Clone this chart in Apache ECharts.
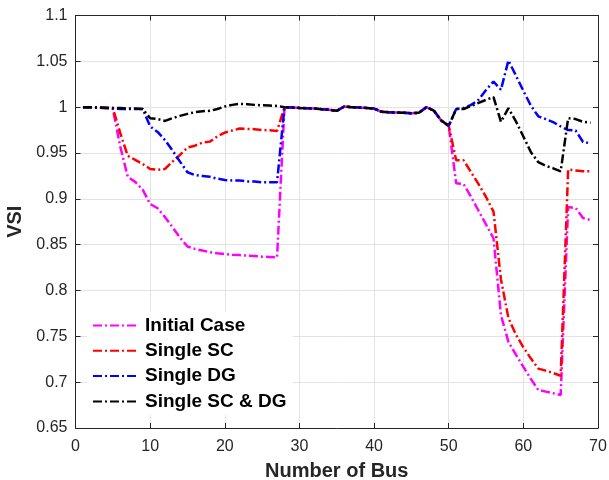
<!DOCTYPE html>
<html>
<head>
<meta charset="utf-8">
<script src="https://cdn.jsdelivr.net/npm/echarts@6/dist/echarts.min.js"></script>
<style>html,body{margin:0;padding:0;background:#fff}#c{width:609px;height:480px}</style>
</head>
<body>
<div id="c"></div>
<script>
const buses = Array.from({length: 69}, (_, i) => i + 1);
const seriesNames = ['Initial Case', 'Single SC', 'Single DG', 'Single SC & DG'];
const xTicks = [0, 10, 20, 30, 40, 50, 60, 70];
const yTicks = [0.65, 0.7, 0.75, 0.8, 0.85, 0.9, 0.95, 1, 1.05, 1.1];

// buses 28-50 (shared by all cases)
const shared28to50 = [1.0, 0.9996, 0.9992, 0.9989, 0.9985, 0.9978, 0.9971, 0.996, 1.0007, 1.0, 0.9996, 0.9992, 0.9985, 0.9949, 0.9945, 0.9941, 0.9938, 0.9934, 0.9938, 1.0, 0.9963, 0.9854, 0.9796];

const initial1to27 = [1.0, 1.0, 0.9999, 0.9998, 0.998, 0.957, 0.924, 0.9185, 0.910, 0.8944, 0.8897, 0.880, 0.869, 0.8577, 0.848, 0.8454, 0.8436, 0.8417, 0.8406, 0.8398, 0.839, 0.8387, 0.838, 0.8376, 0.8369, 0.8366, 0.836];
const initial51to69 = [0.917, 0.916, 0.902, 0.887, 0.872, 0.857, 0.773, 0.744, 0.730, 0.7166, 0.7036, 0.6915, 0.6897, 0.6879, 0.686, 0.891, 0.890, 0.879, 0.877];

const sc1to27 = [1.0, 1.0, 0.9998, 0.9995, 0.999, 0.9716, 0.947, 0.9425, 0.938, 0.9326, 0.9316, 0.9326, 0.9406, 0.948, 0.956, 0.958, 0.9614, 0.9624, 0.968, 0.9723, 0.9745, 0.9767, 0.9763, 0.976, 0.975, 0.9749, 0.974];
const sc51to69 = [0.942, 0.942, 0.929, 0.916, 0.902, 0.886, 0.812, 0.770, 0.752, 0.738, 0.726, 0.7148, 0.7126, 0.710, 0.707, 0.932, 0.931, 0.930, 0.930];

const dg1to27 = [1.0, 1.0, 0.9995, 0.999, 0.9985, 0.998, 0.998, 0.998, 0.998, 0.979, 0.973, 0.964, 0.9527, 0.9406, 0.929, 0.926, 0.925, 0.924, 0.922, 0.9206, 0.920, 0.920, 0.919, 0.919, 0.918, 0.918, 0.918];
const dg51to69 = [0.998, 0.999, 1.0025, 1.008, 1.0187, 1.028, 1.019, 1.051, 1.0345, 1.0178, 1.0018, 0.990, 0.987, 0.9836, 0.979, 0.975, 0.9746, 0.962, 0.9606];

const scdg1to27 = [1.0, 1.0, 0.9995, 0.999, 0.999, 0.999, 0.9985, 0.9985, 0.998, 0.988, 0.987, 0.985, 0.988, 0.9905, 0.9927, 0.9945, 0.9956, 0.996, 0.998, 1.0007, 1.0025, 1.0036, 1.0033, 1.0025, 1.002, 1.0017, 1.0014];
const scdg51to69 = [0.998, 0.998, 1.0013, 1.0047, 1.008, 1.011, 0.984, 0.9989, 0.9846, 0.968, 0.951, 0.940, 0.936, 0.9333, 0.930, 0.988, 0.987, 0.984, 0.983];

const initialCase = initial1to27.concat(shared28to50, initial51to69);
const singleSC = sc1to27.concat(shared28to50, sc51to69);
const singleDG = dg1to27.concat(shared28to50, dg51to69);
const singleSCDG = scdg1to27.concat(shared28to50, scdg51to69);
const allValues = [initialCase, singleSC, singleDG, singleSCDG];
const colors = ['#ff00ff', '#ff0000', '#0000ff', '#000000'];

const font = '"Liberation Sans", Arial, sans-serif';
const axisCol = '#262626';
const gridCol = '#e3e3e3';
const dash = [9, 3, 2, 3];

function fmt(v) { return String(+v.toFixed(2)); }

const chart = echarts.init(document.getElementById('c'), null, {renderer: 'canvas'});
const xBase = {
  type: 'value', min: xTicks[0], max: xTicks[xTicks.length - 1], interval: 10,
  axisLine: {show: true, onZero: false, lineStyle: {color: axisCol, width: 1}},
  axisTick: {show: true, inside: true, length: 5, lineStyle: {color: axisCol}},
  splitLine: {show: false}
};
const yBase = {
  type: 'value', min: yTicks[0], max: yTicks[yTicks.length - 1], interval: 0.05,
  axisLine: {show: true, onZero: false, lineStyle: {color: axisCol, width: 1}},
  axisTick: {show: true, inside: true, length: 5, lineStyle: {color: axisCol}},
  splitLine: {show: false}
};

chart.setOption({
  animation: false,
  backgroundColor: '#ffffff',
  grid: {left: 75.5, right: 11, top: 15.5, bottom: 52, containLabel: false, outerBoundsMode: 'none'},
  xAxis: [
    Object.assign({}, xBase, {
      position: 'bottom',
      name: 'Number of Bus', nameLocation: 'middle', nameGap: 33,
      nameTextStyle: {fontFamily: font, fontSize: 20, fontWeight: 'bold', color: axisCol},
      axisLabel: {show: true, margin: 11, fontFamily: font, fontSize: 16, color: axisCol, formatter: fmt},
      splitLine: {show: true, lineStyle: {color: gridCol, width: 1}}
    }),
    Object.assign({}, xBase, {position: 'top', axisLabel: {show: false}})
  ],
  yAxis: [
    Object.assign({}, yBase, {
      position: 'left',
      name: 'VSI', nameLocation: 'middle', nameGap: 48, nameRotate: 90,
      nameTextStyle: {fontFamily: font, fontSize: 20, fontWeight: 'bold', color: axisCol},
      axisLabel: {show: true, margin: 8, fontFamily: font, fontSize: 16, color: axisCol, formatter: fmt},
      splitLine: {show: true, lineStyle: {color: gridCol, width: 1}}
    }),
    Object.assign({}, yBase, {position: 'right', axisLabel: {show: false}})
  ],
  legend: {
    show: true, orient: 'vertical', left: 87, top: 312,
    itemWidth: 45, itemHeight: 14, itemGap: 6.3,
    backgroundColor: '#ffffff', padding: [4, 6, 4, 5],
    itemStyle: {opacity: 0},
    textStyle: {fontFamily: font, fontSize: 19, lineHeight: 19, fontWeight: 'bold', color: '#000000', padding: [0, 0, 0, 2]},
    data: seriesNames.slice()
  },
  series: seriesNames.map((name, i) => ({
    name: name,
    type: 'line',
    xAxisIndex: 0, yAxisIndex: 0,
    data: buses.map((b, k) => [b, allValues[i][k]]),
    symbol: 'none',
    lineStyle: {color: colors[i], width: 2.5, type: dash},
    itemStyle: {color: colors[i]},
    z: 2 + i
  }))
});
</script>
</body>
</html>
